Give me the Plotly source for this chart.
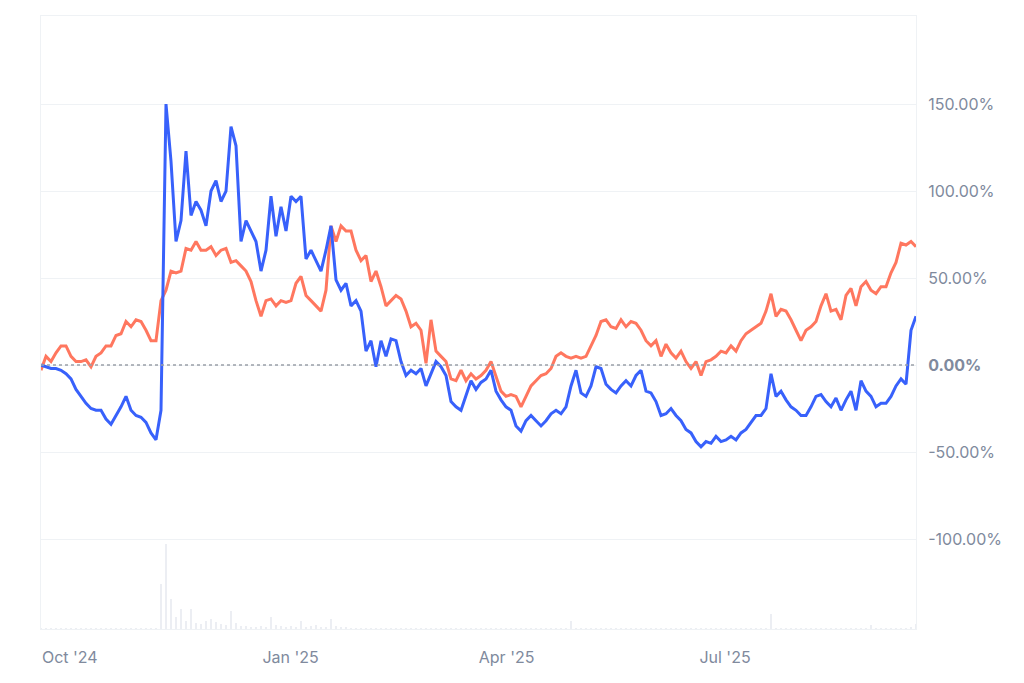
import pandas as pd
import plotly.graph_objects as go

# sampled roughly every 50 hours, from 2024-09-19
start = "2024-09-19"
blue = [0, -1, -2, -2, -3, -5, -8, -14, -18, -22, -25, -26, -26, -31, -34, -29, -24, -18, -26, -29,
        -30, -33, -39, -43, -26, 150, 117, 71, 83, 123, 86, 94, 89, 80, 100, 106, 94, 100, 137, 126,
        71, 83, 77, 71, 54, 66, 97, 74, 91, 77, 97, 94, 97, 61, 66, 60, 54, 66, 80, 49,
        43, 47, 34, 37, 31, 8, 14, -1, 14, 5, 15, 14, 2, -6, -3, -5, -2, -12, -5, 2,
        -1, -6, -21, -24, -26, -18, -9, -14, -10, -8, -3, -15, -20, -24, -26, -35, -38, -32, -29, -32,
        -35, -32, -28, -26, -28, -24, -12, -3, -16, -18, -12, -1, -2, -11, -14, -16, -12, -9, -12, -6,
        -3, -15, -16, -21, -29, -28, -25, -29, -32, -37, -39, -44, -47, -44, -45, -41, -44, -43, -41, -43,
        -39, -37, -33, -29, -29, -25, -5, -18, -15, -20, -24, -26, -29, -29, -24, -18, -17, -21, -24, -19,
        -26, -20, -15, -26, -9, -15, -18, -24, -22, -22, -18, -12, -8, -11, 20, 28]
orange = [-3, 5, 2, 7, 11, 11, 5, 2, 2, 3, -1, 5, 7, 11, 11, 17, 18, 25, 22, 26,
          25, 20, 14, 14, 37, 43, 54, 53, 54, 67, 66, 71, 66, 66, 68, 63, 66, 67, 59, 60,
          57, 54, 48, 37, 28, 37, 38, 34, 37, 36, 37, 47, 51, 40, 37, 34, 31, 43, 80, 71,
          80, 77, 77, 66, 60, 63, 48, 54, 45, 34, 37, 40, 38, 31, 22, 24, 20, 1, 26, 8,
          5, 2, -8, -9, -3, -9, -5, -8, -6, -3, 2, -6, -15, -18, -17, -18, -24, -18, -12, -9,
          -6, -5, -2, 5, 7, 5, 4, 5, 4, 5, 11, 17, 25, 26, 22, 21, 26, 22, 25, 24,
          20, 14, 11, 14, 5, 12, 7, 4, 8, 2, -2, 2, -6, 2, 3, 5, 8, 7, 11, 8,
          14, 18, 20, 22, 24, 31, 41, 28, 32, 31, 26, 20, 14, 20, 22, 25, 34, 41, 31, 32,
          26, 40, 44, 34, 45, 48, 43, 41, 45, 45, 53, 59, 70, 69, 71, 68]
volume = [1, 1, 1, 1, 1, 1, 1, 1, 1, 1, 1, 1, 1, 1, 1, 1, 1, 1, 1, 1,
          1, 1, 1, 1, 45, 85, 30, 12, 20, 8, 20, 6, 5, 8, 10, 7, 5, 4, 18, 6,
          3, 3, 2, 2, 3, 2, 12, 4, 3, 2, 3, 2, 8, 2, 3, 4, 2, 2, 10, 3,
          2, 2, 1, 1, 1, 1, 1, 1, 1, 1, 1, 1, 1, 1, 1, 1, 1, 1, 1, 1,
          1, 1, 1, 1, 1, 1, 1, 1, 1, 1, 1, 1, 1, 1, 1, 1, 1, 1, 1, 1,
          1, 1, 1, 1, 1, 1, 8, 1, 1, 1, 1, 1, 1, 1, 1, 1, 1, 1, 1, 1,
          1, 1, 1, 1, 1, 1, 1, 1, 1, 1, 1, 1, 1, 1, 1, 1, 1, 1, 1, 1,
          1, 1, 1, 1, 1, 1, 15, 1, 1, 1, 1, 1, 1, 1, 1, 1, 1, 1, 1, 1,
          1, 1, 1, 1, 1, 1, 4, 1, 1, 1, 1, 1, 1, 1, 2, 5]
y_ticks = [-100, -50, 0, 50, 100, 150]
y_labels = ["-100.00%", "-50.00%", "<b>0.00%</b>", "50.00%", "100.00%", "150.00%"]

dates = pd.date_range(start, periods=len(blue), freq="50h")

fig = go.Figure()
fig.add_trace(go.Bar(x=dates, y=volume, yaxis="y2", marker=dict(color="#eceef3", line_width=0),
                     width=2 * 3600 * 1000 * 8, hoverinfo="skip"))
fig.add_trace(go.Scatter(x=dates, y=orange, mode="lines", line=dict(color="#ff775f", width=3)))
fig.add_trace(go.Scatter(x=dates, y=blue, mode="lines", line=dict(color="#3861fb", width=3)))

fig.add_hline(y=0, line=dict(color="#9aa0a8", width=1.5, dash="dot"))

fig.update_layout(
    width=1024, height=683,
    margin=dict(l=33, r=116, t=8, b=62),
    plot_bgcolor="white", paper_bgcolor="white",
    showlegend=False, bargap=0,
    font=dict(family="Inter", size=16, color="#808a9d"),
    xaxis=dict(
        range=[pd.Timestamp("2024-09-19"), dates[-1]],
        tickvals=["2024-10-01", "2025-01-01", "2025-04-01", "2025-07-01"],
        ticktext=["Oct '24", "Jan '25", "Apr '25", "Jul '25"],
        showgrid=False, showline=True, linecolor="#eff2f5", mirror=True,
        ticks="", ticklabelstandoff=14,
    ),
    yaxis=dict(
        side="right", range=[-151.7, 200.6], tickvals=y_ticks, ticktext=y_labels,
        showgrid=True, gridcolor="#eff2f5", zeroline=False,
        showline=True, linecolor="#eff2f5", mirror=True, ticklabelstandoff=8,
    ),
    yaxis2=dict(overlaying="y", range=[0, 610], visible=False),
)

fig.write_html("out.html")
